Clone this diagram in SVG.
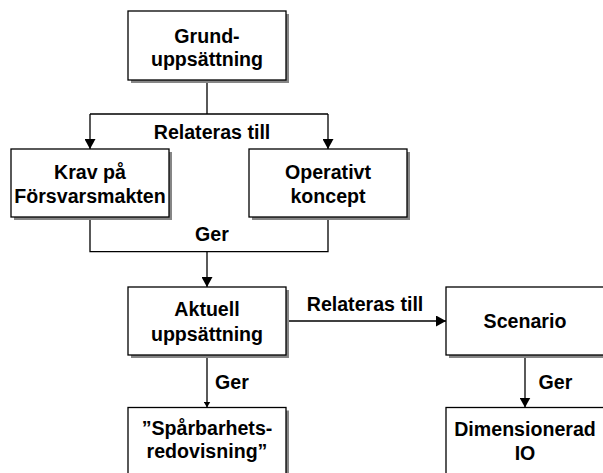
<svg xmlns="http://www.w3.org/2000/svg" width="603" height="473" viewBox="0 0 603 473">
<defs>
<style>
.box{fill:#fff;stroke:#000;stroke-width:1.3}
.sh{fill:#868686}
.t{font-family:"Liberation Sans",Arial,sans-serif;font-weight:bold;font-size:19.6px;fill:#000;text-anchor:middle}
.ls{text-anchor:start}
.ln{fill:none;stroke:#000;stroke-width:1.3}
</style>
<marker id="ah" viewBox="0 0 10 11" refX="10" refY="5.5" markerWidth="10" markerHeight="11" markerUnits="userSpaceOnUse" orient="auto">
<path d="M0,0 L10,5.5 L0,11 Z" fill="#000"/>
</marker>
<marker id="ahs" viewBox="0 0 6 7" refX="6" refY="3.5" markerWidth="6" markerHeight="7" markerUnits="userSpaceOnUse" orient="auto">
<path d="M0,0 L6,3.5 L0,7 Z" fill="#000"/>
</marker>
</defs>
<rect width="603" height="473" fill="#fff"/>
<g id="connectors">
<path class="ln" d="M207,80 V114 M90,114 H328"/>
<path class="ln" d="M90,114 V149" marker-end="url(#ah)"/>
<path class="ln" d="M328,114 V149" marker-end="url(#ah)"/>
<path class="ln" d="M90,217 V251.7 H328 V217"/>
<path class="ln" d="M207,251.7 V287" marker-end="url(#ah)"/>
<path class="ln" d="M286,321 H446" marker-end="url(#ah)"/>
<path class="ln" d="M207,355 V407.5" marker-end="url(#ahs)"/>
<path class="ln" d="M525,355 V407.5" marker-end="url(#ah)"/>
<text class="t" x="212" y="139.3">Relateras till</text>
<text class="t" x="212" y="241.3">Ger</text>
<text class="t" x="365" y="310.7">Relateras till</text>
<text class="t ls" x="215" y="388.5">Ger</text>
<text class="t ls" x="538.5" y="388.5">Ger</text>
</g>
<g id="grund">
<rect class="sh" x="131" y="14" width="158" height="69"/>
<rect class="box" x="128" y="11" width="158" height="69"/>
<text class="t" x="207" y="42.5">Grund-</text>
<text class="t" x="207" y="66.3">uppsättning</text>
</g>
<g id="krav">
<rect class="sh" x="14" y="152" width="158" height="68"/>
<rect class="box" x="11" y="149" width="158" height="68"/>
<text class="t" x="90" y="179">Krav på</text>
<text class="t" x="90" y="203.2">Försvarsmakten</text>
</g>
<g id="operativt">
<rect class="sh" x="252" y="152" width="158" height="68"/>
<rect class="box" x="249" y="149" width="158" height="68"/>
<text class="t" x="328" y="178.6">Operativt</text>
<text class="t" x="328" y="202.8">koncept</text>
</g>
<g id="aktuell">
<rect class="sh" x="131" y="290" width="158" height="68"/>
<rect class="box" x="128" y="287" width="158" height="68"/>
<text class="t" x="207" y="316.3">Aktuell</text>
<text class="t" x="207" y="340.8">uppsättning</text>
</g>
<g id="scenario">
<rect class="sh" x="449" y="290" width="158" height="68"/>
<rect class="box" x="446" y="287" width="158" height="68"/>
<text class="t" x="525" y="328.3">Scenario</text>
</g>
<g id="sparbarhet">
<rect class="sh" x="131" y="410.5" width="158" height="68"/>
<rect class="box" x="128" y="407.5" width="158" height="68"/>
<text class="t" x="207" y="434.5">”Spårbarhets-</text>
<text class="t" x="207" y="457.7">redovisning”</text>
</g>
<g id="dimensionerad">
<rect class="sh" x="449" y="410.5" width="158" height="68"/>
<rect class="box" x="446" y="407.5" width="158" height="68"/>
<text class="t" x="525" y="435.7">Dimensionerad</text>
<text class="t" x="525" y="460">IO</text>
</g>
</svg>
